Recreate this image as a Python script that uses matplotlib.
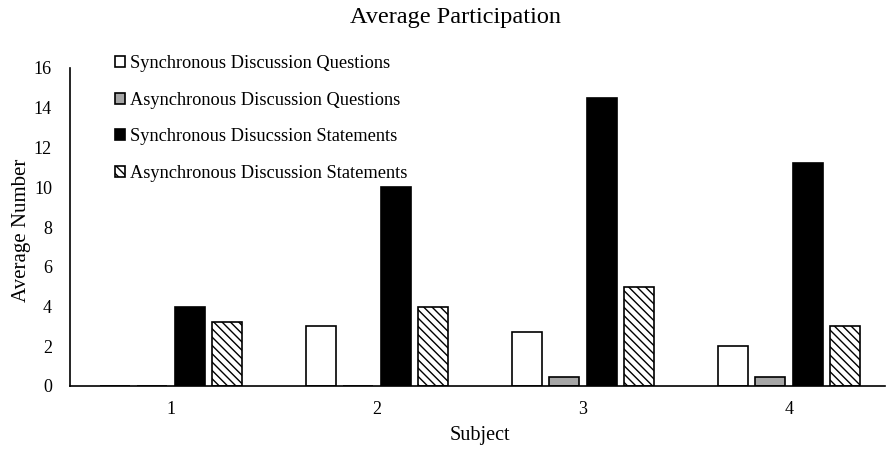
import matplotlib
matplotlib.use("Agg")
import matplotlib.pyplot as plt
import numpy as np

plt.rcParams['font.family'] = ['Liberation Serif', 'DejaVu Serif']
plt.rcParams['hatch.linewidth'] = 1.0

subjects = ["1", "2", "3", "4"]
series_names = ["Synchronous Discussion Questions",
                "Asynchronous Discussion Questions",
                "Synchronous Disucssion Statements",
                "Asynchronous Discussion Statements"]
sync_questions = [0, 3.0, 2.7, 2.0]
async_questions = [0, 0, 0.45, 0.45]
sync_statements = [4.0, 10.0, 14.5, 11.2]
async_statements = [3.2, 4.0, 5.0, 3.0]

series = [sync_questions, async_questions, sync_statements, async_statements]
faces = ["white", "#a6a6a6", "black", "white"]
hatches = [None, None, None, "\\\\\\\\"]

fig = plt.figure(figsize=(8.88, 4.51), dpi=100)
ax = fig.add_axes([70/888, (451-386)/451, (885-70)/888, (386-68)/451])

x = np.arange(len(subjects))
width = 0.146
step = 0.182
for i, (vals, fc, h, name) in enumerate(zip(series, faces, hatches, series_names)):
    ax.bar(x + (i - 1.5) * step, vals, width, color=fc, edgecolor="black",
           linewidth=1.2, hatch=h, label=name)

ax.set_xlim(-0.49, 3.466)
ax.set_ylim(0, 16)
ax.set_yticks(np.arange(0, 17, 2))
ax.set_xticks(x)
ax.set_xticklabels(subjects)
ax.tick_params(axis='x', length=0, labelsize=13, pad=11)
ax.tick_params(axis='y', length=0, labelsize=13, pad=13)
ax.spines['top'].set_visible(False)
ax.spines['right'].set_visible(False)
ax.spines['left'].set_linewidth(1.2)
ax.spines['bottom'].set_linewidth(1.2)

ax.set_ylabel("Average Number", fontsize=15)
ax.yaxis.set_label_coords(31/888, (451-230)/451, transform=fig.transFigure)
ax.set_xlabel("Subject", fontsize=14.5)
ax.xaxis.set_label_coords(480/888, 1 - 426/451, transform=fig.transFigure)
fig.text(455/888, 1 - 17/451, "Average Participation", ha="center", va="center", fontsize=17.5)

leg = ax.legend(loc="upper left", bbox_to_anchor=(115/888, 1 - 55/451),
                bbox_transform=fig.transFigure, frameon=False, fontsize=13.2,
                handlelength=0.55, handleheight=0.55, handletextpad=0.25,
                labelspacing=1.07, borderaxespad=0, borderpad=0)

fig.savefig("out.png", dpi=100)
